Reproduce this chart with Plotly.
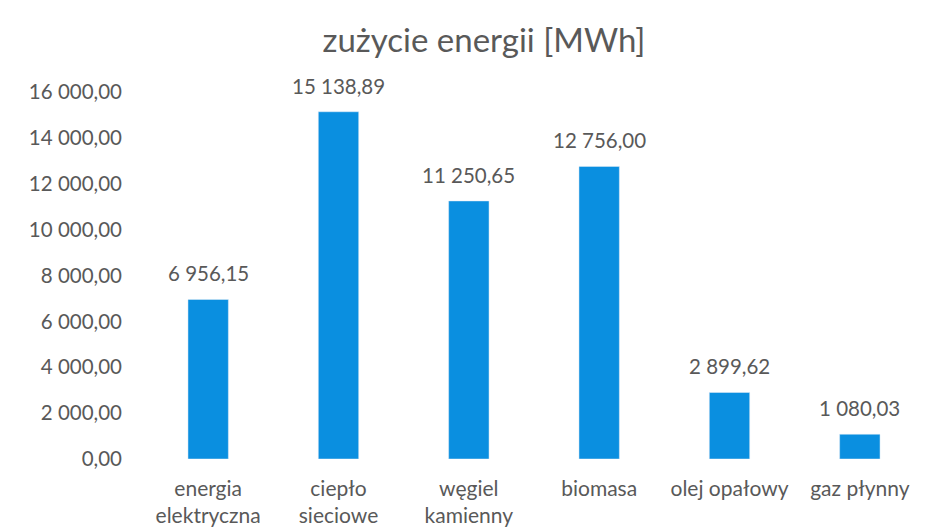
import plotly.graph_objects as go

categories = ["energia<br>elektryczna", "ciepło<br>sieciowe", "węgiel<br>kamienny", "biomasa", "olej opałowy", "gaz płynny"]
values = [6956.15, 15138.89, 11250.65, 12756.00, 2899.62, 1080.03]
tick_vals = [0, 2000, 4000, 6000, 8000, 10000, 12000, 14000, 16000]

font_family = "Lato, 'Open Sans', sans-serif"
grey = "#595959"


def fmt(v):
    s = f"{v:,.2f}"
    return s.replace(",", " ").replace(".", ",")


fig = go.Figure(go.Bar(
    x=categories, y=values,
    marker_color="#0a8fe0",
    cliponaxis=False,
))

for c, v in zip(categories, values):
    fig.add_annotation(x=c, y=v, text=fmt(v), showarrow=False, xanchor="center", yanchor="bottom",
                       yshift=12, font=dict(size=20.5, color=grey, family=font_family))

fig.update_layout(
    width=952, height=531,
    separators=", ",
    paper_bgcolor="white", plot_bgcolor="white",
    margin=dict(l=135, r=35, t=84, b=80),
    bargap=0.69,
    showlegend=False,
    title=dict(text="zużycie energii [MWh]", x=0.5, xanchor="center", y=0.938, yanchor="middle",
               font=dict(size=33, color=grey, family=font_family)),
    font=dict(family=font_family, color=grey, size=20.5),
)
fig.update_xaxes(showgrid=False, showline=False, ticks="", ticklabelstandoff=15,
                 tickfont=dict(size=21, color=grey))
fig.update_yaxes(range=[0, 16000], tickvals=tick_vals, tickformat=",.2f", showgrid=False,
                 zeroline=False, showline=False, ticks="", ticklabelstandoff=20,
                 tickfont=dict(size=20.5, color=grey))

fig.write_html("out.html")
